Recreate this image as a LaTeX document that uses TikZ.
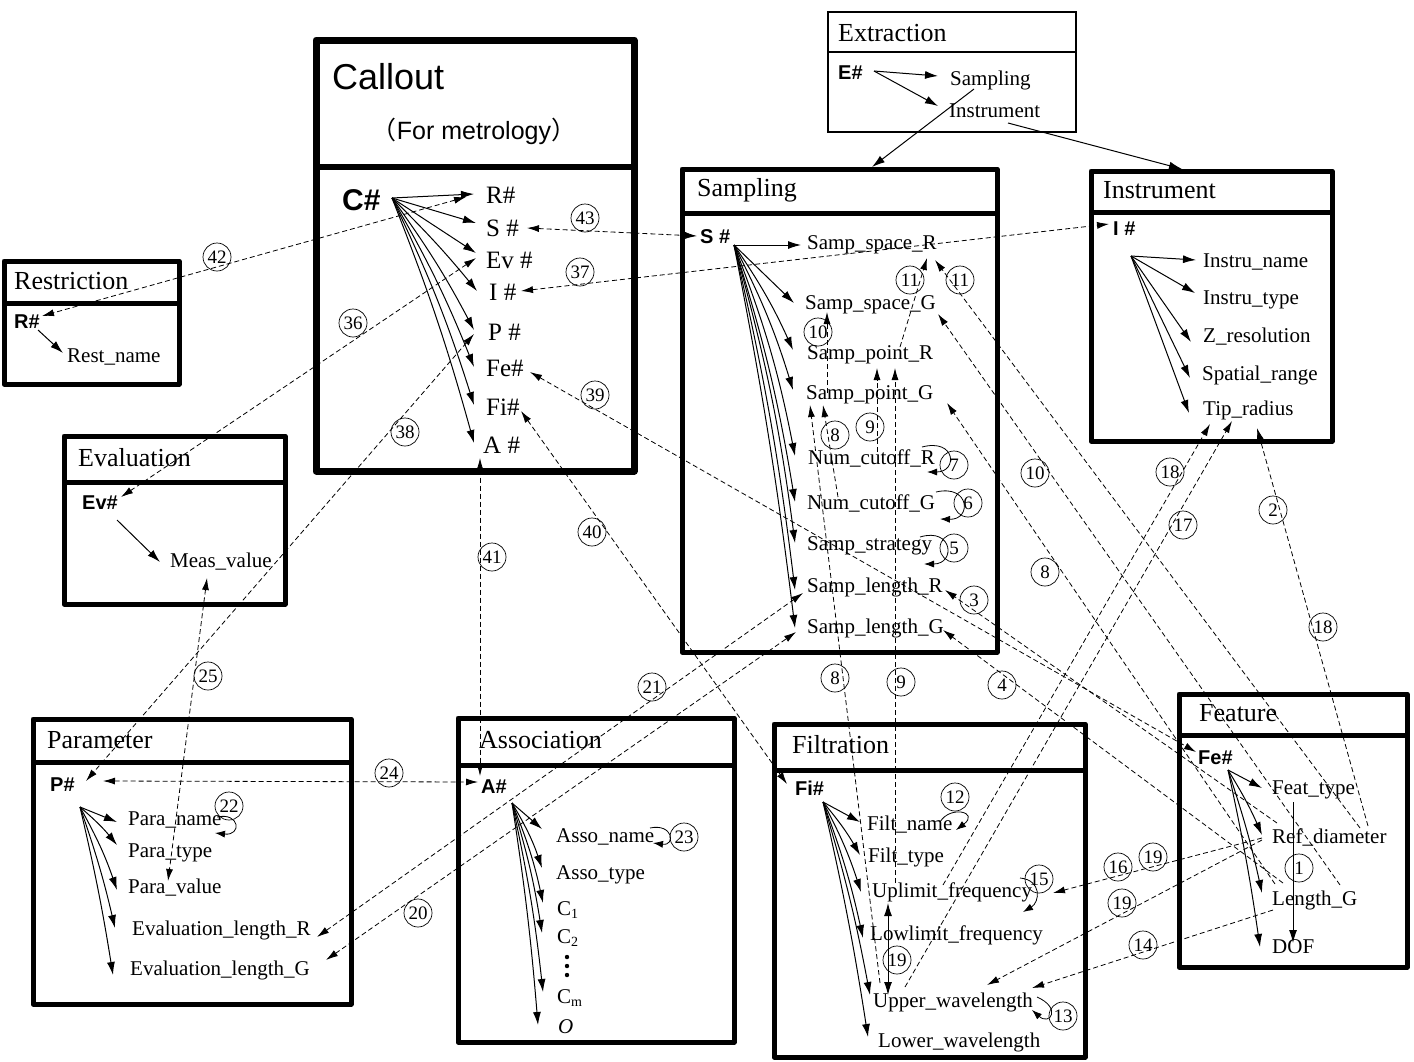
\documentclass[tikz,border=0pt]{standalone}
\usepackage{fontspec}
\setmainfont{Liberation Serif}
\newfontfamily\arialf{Liberation Sans}
\newfontfamily\cjkf{Noto Sans CJK SC}
\usetikzlibrary{arrows.meta}
\begin{document}
\begin{tikzpicture}[x=1pt,y=-1pt,
  frame/.style={line width=5pt, line join=round},
  thinframe/.style={line width=1.3pt},
  ttl/.style={anchor=west, inner sep=0pt, font=\fontsize{26}{30}\selectfont},
  attr/.style={anchor=west, inner sep=0pt, font=\fontsize{21}{24}\selectfont},
  citem/.style={anchor=west, inner sep=0pt, font=\fontsize{25}{28}\selectfont},
  keyl/.style={anchor=west, inner sep=0pt, font=\arialf\bfseries\fontsize{20}{24}\selectfont},
  numc/.style={circle, draw, line width=0.7pt, minimum size=28pt, inner sep=0pt, font=\fontsize{19}{20}\selectfont},
  sarr/.style={line width=1pt, -{Latex[length=13pt,width=8pt]}},
  sdarr/.style={line width=1pt, {Latex[length=13pt,width=8pt]}-{Latex[length=13pt,width=8pt]}},
  darr/.style={line width=0.8pt, dash pattern=on 5pt off 3pt, -{Latex[length=12pt,width=7pt]}},
  ddarr/.style={line width=0.8pt, dash pattern=on 5pt off 3pt, {Latex[length=12pt,width=7pt]}-{Latex[length=12pt,width=7pt]}},
  loopa/.style={line width=0.8pt, -{Latex[length=10pt,width=7pt]}},
  bl/.style={bend left=#1},
]
\useasboundingbox (0,0) rectangle (1414,1061);
\fill[white] (0,0) rectangle (1414,1061);

% ---------------- frames ----------------
\draw[thinframe] (828,12) rectangle (1076,132); \draw[thinframe] (828,52) -- (1076,52);
\draw[frame, line width=7pt] (316,40) rectangle (634,471); \draw[line width=6pt] (316,167) -- (634,167);
\draw[frame] (4,261) rectangle (179,384); \draw[frame] (4,303) -- (179,303);
\draw[frame] (64,436) rectangle (285,604); \draw[frame] (64,482) -- (285,482);
\draw[frame] (682,169) rectangle (997,652); \draw[frame] (682,213) -- (997,213);
\draw[frame] (1091,171) rectangle (1332,441); \draw[frame] (1091,212) -- (1332,212);
\draw[frame] (1179,694) rectangle (1407,967); \draw[frame] (1179,735) -- (1407,735);
\draw[frame] (774,724) rectangle (1085,1057); \draw[frame] (774,770) -- (1085,770);
\draw[frame] (33,719) rectangle (351,1004); \draw[frame] (33,762) -- (351,762);
\draw[frame] (458,718) rectangle (734,1042); \draw[frame] (458,765) -- (734,765);

% ---------------- Extraction ----------------
\node[ttl] (tExt) at (838,33) {Extraction};
\node[keyl] (kE) at (838,73) {E\#};
\node[attr] (eS) at (950,80) {Sampling};
\node[attr] (eI) at (949,111) {Instrument};

% ---------------- Callout ----------------
\node[anchor=west, inner sep=0pt, font=\arialf\fontsize{36}{40}\selectfont] (tCall) at (332,77) {Callout};
\node[inner sep=0pt, font=\arialf\fontsize{25}{30}\selectfont] (tFor) at (474,131) {{\cjkf （}For metrology{\cjkf ）}};
\node[keyl, font=\arialf\bfseries\fontsize{30}{34}\selectfont] (kC) at (342,200) {C\#};
\node[citem] (cR) at (486,195) {R\#};
\node[citem] (cS) at (486,228) {S \#};
\node[citem] (cEv) at (486,260) {Ev \#};
\node[citem] (cI) at (489,292) {I \#};
\node[citem] (cP) at (488,332) {P \#};
\node[citem] (cFe) at (486,368) {Fe\#};
\node[citem] (cFi) at (486,407) {Fi\#};
\node[citem] (cA) at (483,445) {A \#};

% ---------------- Restriction / Evaluation ----------------
\node[ttl] (tRes) at (14,281) {Restriction};
\node[keyl] (kR) at (14,322) {R\#};
\node[attr] (rname) at (67,357) {Rest\_name};
\node[ttl] (tEva) at (78,458) {Evaluation};
\node[keyl] (kEv) at (82,503) {Ev\#};
\node[attr] (meas) at (170,562) {Meas\_value};

% ---------------- Sampling ----------------
\node[ttl] (tSam) at (697,190) {Sampling};
\node[keyl] (kS) at (700,237) {S \#};
\node[attr] (ssr) at (807,245) {Samp\_space\_R};
\node[attr] (ssg) at (805,305) {Samp\_space\_G};
\node[attr] (spr) at (807,355) {Samp\_point\_R};
\node[attr] (spg) at (806,395) {Samp\_point\_G};
\node[attr] (ncr) at (808,458) {Num\_cutoff\_R};
\node[attr] (ncg) at (807,503) {Num\_cutoff\_G};
\node[attr] (sst) at (807,546) {Samp\_strategy};
\node[attr] (slr) at (807,587) {Samp\_length\_R};
\node[attr] (slg) at (807,628) {Samp\_length\_G};

% ---------------- Instrument ----------------
\node[ttl] (tIns) at (1103,190) {Instrument};
\node[keyl] (kI) at (1113,229) {I \#};
\node[attr] (iname) at (1203,262) {Instru\_name};
\node[attr] (itype) at (1203,300) {Instru\_type};
\node[attr] (zres) at (1203,337) {Z\_resolution};
\node[attr] (ispr) at (1202,375) {Spatial\_range};
\node[attr] (tipr) at (1203,410) {Tip\_radius};

% ---------------- Parameter ----------------
\node[ttl] (tPar) at (47,740) {Parameter};
\node[keyl] (kP) at (50,785) {P\#};
\node[attr] (pname) at (128,820) {Para\_name};
\node[attr] (ptype) at (128,853) {Para\_type};
\node[attr] (pval) at (128,888) {Para\_value};
\node[attr] (evr) at (132,930) {Evaluation\_length\_R};
\node[attr] (evg) at (130,970) {Evaluation\_length\_G};

% ---------------- Association ----------------
\node[ttl] (tAss) at (479,740) {Association};
\node[keyl] (kA) at (481,787) {A\#};
\node[attr] (aname) at (556,837) {Asso\_name};
\node[attr] (atype) at (556,875) {Asso\_type};
\node[attr] (ac1) at (557,910) {C\raisebox{-0.35ex}{\fontsize{14}{16}\selectfont 1}};
\node[attr] (ac2) at (557,938) {C\raisebox{-0.35ex}{\fontsize{14}{16}\selectfont 2}};
\fill (567,957) circle (2.2pt) (567,966) circle (2.2pt) (567,975) circle (2.2pt);
\node[attr] (acm) at (557,998) {C\raisebox{-0.35ex}{\fontsize{14}{16}\selectfont m}};
\node[attr] (ao) at (558,1027) {\textit{O}};

% ---------------- Filtration ----------------
\node[ttl] (tFil) at (792,745) {Filtration};
\node[keyl] (kFi) at (795,788) {Fi\#};
\node[attr] (fname) at (867,825) {Filt\_name};
\node[attr] (ftype) at (868,857) {Filt\_type};
\node[attr] (uplf) at (872,892) {Uplimit\_frequency};
\node[attr] (lowf) at (870,935) {Lowlimit\_frequency};
\node[attr] (upw) at (873,1002) {Upper\_wavelength};
\node[attr] (loww) at (878,1042) {Lower\_wavelength};

% ---------------- Feature ----------------
\node[ttl] (tFea) at (1199,713) {Feature};
\node[keyl] (kFe) at (1198,758) {Fe\#};
\node[attr] (fty) at (1272,790) {Feat\_type};
\node[attr] (rdia) at (1272,837) {Ref\_diameter};
\node[attr] (lg) at (1272,900) {Length\_G};
\node[attr] (dof) at (1272,947) {DOF};

% ---------------- solid arrows ----------------
\coordinate (oE) at (874,71);
\draw[sarr] (oE) -- (938,76);
\draw[sarr] (oE) -- (938,106);
\coordinate (eSb) at (974,89); \coordinate (samT) at (872,167);
\draw[sarr] (eSb) -- (samT);
\coordinate (eIb) at (1008,123); \coordinate (insT) at (1182,169);
\draw[sarr] (eIb) -- (insT);

\coordinate (oC) at (392,198);
\draw[sarr] (oC) -- (474,194);
\draw[sarr] (oC) -- (476,223);
\draw[sarr] (oC) -- (476,253);
\draw[sarr] (oC) to[bl=3] (477,291);
\draw[sarr] (oC) to[bl=4] (474,330);
\draw[sarr] (oC) to[bl=4] (474,367);
\draw[sarr] (oC) to[bl=4] (474,405);
\draw[sarr] (oC) to[bl=3] (474,443);

\coordinate (oS) at (734,245);
\draw[sarr] (oS) -- (801,245);
\draw[sarr] (oS) -- (794,303);
\draw[sarr] (oS) to[bl=5] (793,350);
\draw[sarr] (oS) to[bl=5] (793,390);
\draw[sarr] (oS) to[bl=5] (795,456);
\draw[sarr] (oS) to[bl=4] (795,502);
\draw[sarr] (oS) to[bl=4] (795,543);
\draw[sarr] (oS) to[bl=3] (795,590);
\draw[sarr] (oS) to[bl=2] (795,628);

\coordinate (oI) at (1131,256);
\draw[sarr] (oI) -- (1196,260);
\draw[sarr] (oI) -- (1195,293);
\draw[sarr] (oI) -- (1191,342);
\draw[sarr] (oI) -- (1190,378);
\draw[sarr] (oI) -- (1189,413);

\draw[sarr] (38,330) -- (63,353);
\draw[sarr] (117,520) -- (160,562);

\coordinate (oP) at (80,807);
\draw[sarr] (oP) -- (117,822);
\draw[sarr] (oP) to[bl=5] (117,845);
\draw[sarr] (oP) to[bl=5] (117,890);
\draw[sarr] (oP) to[bl=3] (115,928);
\draw[sarr] (oP) to[bl=2] (113,975);

\coordinate (oA) at (512,803);
\draw[sarr] (oA) -- (542,829);
\draw[sarr] (oA) to[bl=6] (542,868);
\draw[sarr] (oA) to[bl=5] (543,903);
\draw[sarr] (oA) to[bl=4] (542,933);
\draw[sarr] (oA) to[bl=3] (543,992);
\draw[sarr] (oA) to[bl=2] (538,1025);

\coordinate (oFi) at (823,802);
\draw[sarr] (oFi) -- (860,822);
\draw[sarr] (oFi) to[bl=5] (860,855);
\draw[sarr] (oFi) to[bl=5] (861,892);
\draw[sarr] (oFi) to[bl=4] (863,938);
\draw[sarr] (oFi) to[bl=3] (870,995);
\draw[sarr] (oFi) to[bl=2] (868,1037);

\coordinate (oFe) at (1228,770);
\draw[sarr] (oFe) -- (1262,788);
\draw[sarr] (oFe) to[bl=4] (1262,835);
\draw[sarr] (oFe) to[bl=3] (1262,893);
\draw[sarr] (oFe) to[bl=2] (1260,947);

\draw[sarr] (1293,802) -- (1293,943);
\draw[sdarr] (888,903) -- (888,995);

% ---------------- self loops ----------------
\draw[loopa] (922,447) .. controls (956,438) and (958,472) .. (927,472);
\draw[loopa] (936,492) .. controls (970,484) and (972,520) .. (940,519);
\draw[loopa] (920,537) .. controls (953,527) and (956,564) .. (924,564);
\draw[loopa] (940,822) .. controls (950,805) and (980,812) .. (956,830);
\draw[loopa] (1020,878) .. controls (1042,880) and (1040,902) .. (1023,912);
\draw[loopa] (1037,997) .. controls (1062,1008) and (1050,1026) .. (1032,1010);
\draw[loopa] (217,817) .. controls (240,812) and (242,836) .. (215,833);
\draw[loopa] (650,828) .. controls (673,823) and (676,846) .. (653,843);

% ---------------- dashed connectors ----------------
\draw[ddarr] (466,197) -- (42,316);
\draw[ddarr] (527,228) -- (697,236);
\draw[ddarr] (521,291) -- (1109,224);
\draw[ddarr] (476,258) -- (121,497);
\draw[ddarr] (474,334) -- (86,781);
\draw[ddarr] (530,372) -- (1196,752);
\draw[ddarr] (521,411) -- (787,784);
\draw[ddarr] (480,458) -- (480,776);
\draw[ddarr] (103,781) -- (478,782);
\draw[ddarr] (207,578) -- (168,881);
\draw[ddarr] (317,937) -- (803,593);
\draw[ddarr] (326,960) -- (796,632);

\draw[darr] (900,347) -- (927,258);
\draw[darr] (827,393) -- (827,312);
\draw[darr] (877,452) -- (877,368);
\draw[darr] (838,497) -- (823,405);
\draw[darr] (880,983) -- (810,405);
\draw[darr] (895,883) -- (895,368);

\draw[darr] (1360,828) -- (935,260);
\draw[darr] (1340,885) -- (938,314);
\draw[darr] (1275,884) -- (947,403);
\draw[darr] (1277,823) -- (945,590);
\draw[darr] (1283,883) -- (943,630);

\draw[darr] (1262,838) -- (1053,893);
\draw[darr] (1262,840) -- (987,985);
\draw[darr] (1273,910) -- (1032,988);

\draw[darr] (943,885) -- (1210,424);
\draw[darr] (905,987) -- (1232,421);
\draw[darr] (1368,826) -- (1257,428);

% ---------------- circled numbers ----------------
\node[numc] (n42) at (217,257) {42};
\node[numc] (n43) at (585,218) {43};
\node[numc] (n37) at (580,272) {37};
\node[numc] (n36) at (353,323) {36};
\node[numc] (n38) at (405,432) {38};
\node[numc] (n39) at (595,395) {39};
\node[numc] (n40) at (592,532) {40};
\node[numc] (n41) at (492,557) {41};
\node[numc] (n21) at (652,687) {21};
\node[numc] (n20) at (418,913) {20};
\node[numc] (n24) at (389,773) {24};
\node[numc] (n25) at (208,676) {25};
\node[numc] (n22) at (229,806) {22};
\node[numc] (n23) at (684,837) {23};
\node[numc] (n11a) at (910,280) {11};
\node[numc] (n11b) at (960,280) {11};
\node[numc] (n10a) at (818,332) {10};
\node[numc] (n10b) at (1035,473) {10};
\node[numc] (n8a) at (835,435) {8};
\node[numc] (n8b) at (835,678) {8};
\node[numc] (n8c) at (1045,572) {8};
\node[numc] (n9a) at (870,427) {9};
\node[numc] (n9b) at (901,682) {9};
\node[numc] (n7) at (954,465) {7};
\node[numc] (n6) at (968,503) {6};
\node[numc] (n5) at (954,548) {5};
\node[numc] (n3) at (974,600) {3};
\node[numc] (n4) at (1002,685) {4};
\node[numc] (n18a) at (1170,472) {18};
\node[numc] (n17) at (1183,525) {17};
\node[numc] (n2) at (1273,510) {2};
\node[numc] (n18b) at (1323,627) {18};
\node[numc] (n16) at (1118,867) {16};
\node[numc] (n19a) at (1153,857) {19};
\node[numc] (n19b) at (1122,903) {19};
\node[numc] (n14) at (1143,945) {14};
\node[numc] (n15) at (1039,879) {15};
\node[numc] (n12) at (955,797) {12};
\node[numc] (n13) at (1063,1016) {13};
\node[numc] (n19c) at (897,960) {19};
\node[numc] (n1) at (1299,868) {1};
\end{tikzpicture}
\end{document}
